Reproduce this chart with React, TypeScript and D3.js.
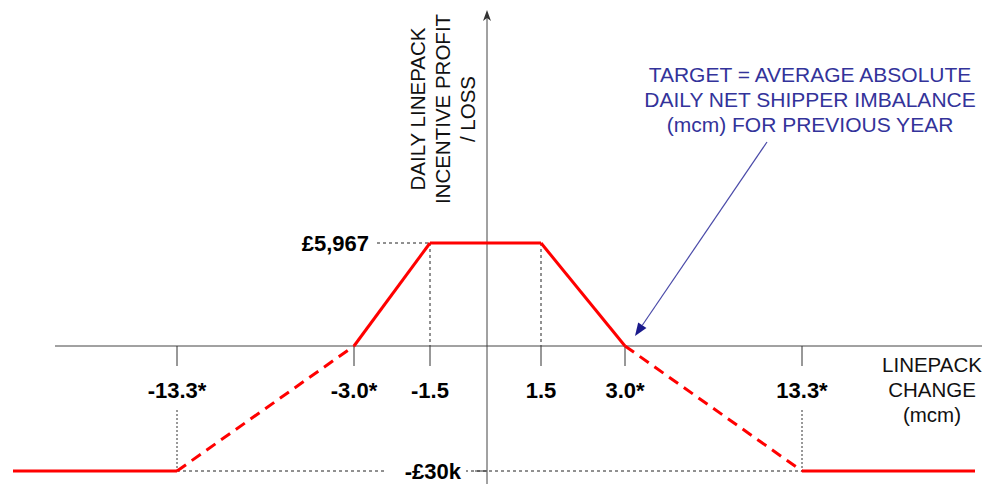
import React from "react";
import * as d3 from "d3";

// Schematic breakpoints (mcm) and their labels
const xTickValues = [-13.3, -3.0, -1.5, 1.5, 3.0, 13.3];
const xTickLabels = ["-13.3*", "-3.0*", "-1.5", "1.5", "3.0*", "13.3*"];

// Incentive profile (mcm -> £)
const profileX = [-20, -13.3, -3.0, -1.5, 1.5, 3.0, 13.3, 20];
const profileY = [-30000, -30000, 0, 5967, 5967, 0, -30000, -30000];
// style of segment i (between point i and i+1)
const segmentStyle = ["solid", "dashed", "solid", "solid", "solid", "dashed", "solid"];

const yTickValues = [5967, -30000];
const yTickLabels = ["£5,967", "-£30k"];

const yTitle = ["DAILY LINEPACK", "INCENTIVE PROFIT", "/ LOSS"];
const xTitle = ["LINEPACK", "CHANGE", "(mcm)"];
const note = ["TARGET = AVERAGE ABSOLUTE", "DAILY NET SHIPPER IMBALANCE", "(mcm) FOR PREVIOUS YEAR"];

const W = 984;
const H = 484;
const FONT = "'Liberation Sans', Arial, sans-serif";

// schematic (piecewise) scales
const x = d3
  .scaleLinear()
  .domain([-20, -13.3, -3, -1.5, 0, 1.5, 3, 13.3, 20])
  .range([13, 177, 354, 430, 487, 541, 625, 802, 975]);
const y = d3.scaleLinear().domain([-30000, 0, 5967]).range([471, 346, 243]);

export default function App() {
  const x0 = x(0);
  const y0 = y(0);
  const line = d3
    .line<[number, number]>()
    .x((d) => x(d[0]))
    .y((d) => y(d[1]));

  const segs = segmentStyle.map((s, i) => ({
    style: s,
    d: line([
      [profileX[i], profileY[i]],
      [profileX[i + 1], profileY[i + 1]],
    ]) as string,
  }));

  const noteX = 810;
  const arrowFrom = [767, 142];
  const arrowTip = [x(3.0) + 10, y0 - 10];
  const ang = Math.atan2(arrowTip[1] - arrowFrom[1], arrowTip[0] - arrowFrom[0]);
  const ah = 13;
  const aw = 5;
  const bx = arrowTip[0] - ah * Math.cos(ang);
  const by = arrowTip[1] - ah * Math.sin(ang);
  const head = `M${arrowTip[0]},${arrowTip[1]}L${bx + aw * Math.sin(ang)},${by - aw * Math.cos(ang)}L${bx - aw * Math.sin(ang)},${by + aw * Math.cos(ang)}Z`;

  const yTop = 10;

  return (
    <svg
      width={W}
      height={H}
      style={{ position: "absolute", left: 0, top: 0, background: "#fff" }}
      fontFamily={FONT}
    >
      <rect width={W} height={H} fill="#fff" />

      {/* guide lines */}
      {[-1.5, 1.5].map((v) => (
        <line
          key={"g" + v}
          x1={x(v)}
          x2={x(v)}
          y1={y(5967)}
          y2={y0}
          stroke="#222"
          strokeWidth={1}
          strokeDasharray="3,3"
        />
      ))}
      <line
        x1={x(-1.5) - 53}
        x2={x(-1.5)}
        y1={y(5967)}
        y2={y(5967)}
        stroke="#222"
        strokeDasharray="3,3"
      />
      {[-13.3, 13.3].map((v) => (
        <line
          key={"gg" + v}
          x1={x(v)}
          x2={x(v)}
          y1={410}
          y2={y(-30000)}
          stroke="#333"
          strokeWidth={1}
          strokeDasharray="2,2"
        />
      ))}
      <line
        x1={x(-13.3)}
        x2={x(13.3)}
        y1={y(-30000)}
        y2={y(-30000)}
        stroke="#222"
        strokeDasharray="3,3"
      />

      {/* axes */}
      <line x1={55} x2={982} y1={y0} y2={y0} stroke="#444" strokeWidth={1} />
      <line x1={x0} x2={x0} y1={yTop + 4} y2={H} stroke="#444" strokeWidth={1} />
      <path
        d={`M${x0},${yTop}L${x0 + 4},${yTop + 11}L${x0},${yTop + 8}L${x0 - 4},${yTop + 11}Z`}
        fill="#333"
      />
      {xTickValues.map((v, i) => (
        <g key={"t" + i}>
          <line x1={x(v)} x2={x(v)} y1={y0} y2={y0 + 20} stroke="#333" />
          <text
            x={x(v)}
            y={398}
            textAnchor="middle"
            fontSize={22}
            fontWeight="bold"
            fill="#000"
          >
            {xTickLabels[i]}
          </text>
        </g>
      ))}
      {yTickValues.map((v, i) => (
        <g key={"yt" + i}>
          <line x1={x0 - 12} x2={x0} y1={y(v)} y2={y(v)} stroke="#333" />
        </g>
      ))}
      <rect x={386} y={458} width={80} height={24} fill="#fff" />
      {yTickValues.map((v, i) => (
        <text
          key={"yl" + i}
          x={i === 0 ? 369 : 461}
          y={y(v) + 8}
          textAnchor="end"
          fontSize={22}
          fontWeight="bold"
          fill="#000"
        >
          {yTickLabels[i]}
        </text>
      ))}

      {/* profile */}
      {segs.map((s, i) => (
        <path
          key={"s" + i}
          d={s.d}
          fill="none"
          stroke="#ff0000"
          strokeWidth={3}
          strokeDasharray={s.style === "dashed" ? "11,7" : undefined}
          strokeLinecap="butt"
        />
      ))}

      {/* titles */}
      {yTitle.map((t, i) => (
        <text
          key={"yt" + i}
          transform={`translate(${425 + i * 25},109) rotate(-90)`}
          textAnchor="middle"
          fontSize={20.5}
          fill="#111"
        >
          {t}
        </text>
      ))}
      {xTitle.map((t, i) => (
        <text
          key={"xt" + i}
          x={932}
          y={372 + i * 25}
          textAnchor="middle"
          fontSize={20.5}
          fill="#111"
        >
          {t}
        </text>
      ))}

      {/* annotation */}
      {note.map((t, i) => (
        <text
          key={"n" + i}
          x={noteX}
          y={82 + i * 25}
          textAnchor="middle"
          fontSize={21}
          fill="#33339a"
        >
          {t}
        </text>
      ))}
      <line
        x1={arrowFrom[0]}
        y1={arrowFrom[1]}
        x2={bx}
        y2={by}
        stroke="#4a4aa8"
        strokeWidth={1.2}
      />
      <path d={head} fill="#1a1a8c" />
    </svg>
  );
}
